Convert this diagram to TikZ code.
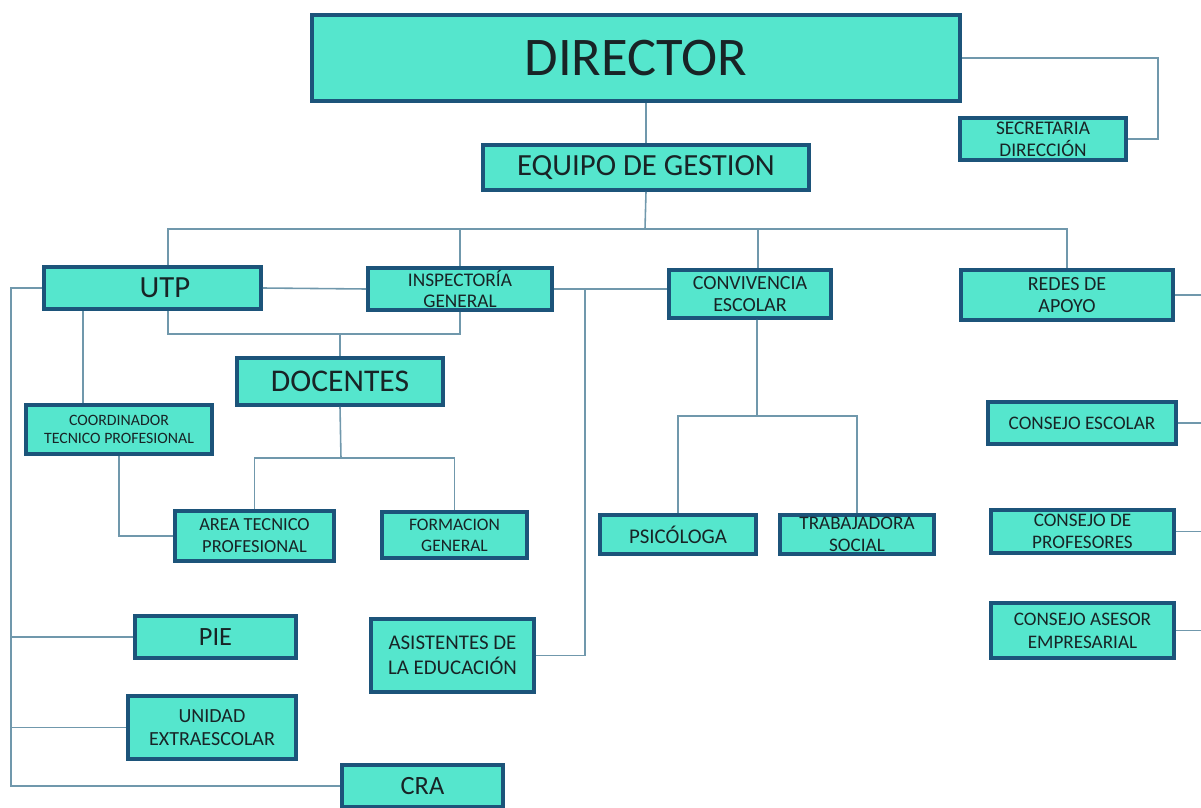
\documentclass[tikz,border=0pt]{standalone}
\usepackage{fontspec}
\setmainfont{Carlito}
\usetikzlibrary{positioning}
\definecolor{boxfill}{RGB}{85,230,205}
\definecolor{boxline}{RGB}{28,84,122}
\definecolor{linkColor}{RGB}{112,152,172}
\definecolor{textColor}{RGB}{24,36,38}
\tikzset{
  box/.style={draw=boxline,fill=boxfill,line width=2.2pt,align=center,inner sep=0pt,text=textColor},
  link/.style={draw=linkColor,line width=0.9pt},
  huge/.style={font=\fontsize{31}{33}\selectfont},
  big/.style={font=\fontsize{17.5}{20}\selectfont},
  mid/.style={font=\fontsize{15}{17}\selectfont},
  small/.style={font=\fontsize{11.4}{13}\selectfont},
  tiny/.style={font=\fontsize{9}{10.5}\selectfont}
}
\begin{document}
\begin{tikzpicture}[x=0.02cm,y=-0.02cm]
  \useasboundingbox (0,0) rectangle (1201,808);
  % top level
  \node [box,huge,minimum width=12.96cm,minimum height=1.72cm] (director) at (636,58) {DIRECTOR};
  \node [box,small,font=\fontsize{11}{12.4}\selectfont,minimum width=3.32cm,minimum height=0.84cm] (secretaria) at (1043,139) {SECRETARIA\\DIRECCIÓN};
  \node [box,big,minimum width=6.52cm,minimum height=0.9cm] (equipo) at (646,167.5) {EQUIPO DE GESTION};
  % second level
  \node [box,big,minimum width=4.34cm,minimum height=0.84cm] (utp) at (152.5,288) {\hspace*{0.5cm}UTP};
  \node [box,small,font=\fontsize{11}{12.4}\selectfont,minimum width=3.68cm,minimum height=0.84cm] (inspectoria) at (460,289) {INSPECTORÍA\\GENERAL};
  \node [box,small,minimum width=3.24cm,minimum height=0.96cm] (convivencia) at (750,294) {CONVIVENCIA\\ESCOLAR};
  \node [box,small,minimum width=4.24cm,minimum height=1cm] (redes) at (1067,295) {REDES DE\\APOYO};
  % under UTP
  \node [box,big,font=\fontsize{18}{20}\selectfont,minimum width=4.12cm,minimum height=0.94cm] (docentes) at (340,381.5) {DOCENTES};
  \node [box,tiny,minimum width=3.72cm,minimum height=0.98cm] (coordinador) at (119,429.5) {COORDINADOR\\TECNICO PROFESIONAL};
  \node [box,small,font=\fontsize{10.5}{12.6}\selectfont,minimum width=3.18cm,minimum height=1cm] (area) at (254.5,536) {AREA TECNICO\\PROFESIONAL};
  \node [box,small,font=\fontsize{10}{12}\selectfont,minimum width=2.9cm,minimum height=0.92cm] (formacion) at (454.5,535) {FORMACION\\GENERAL};
  \node [box,mid,minimum width=3.22cm,minimum height=0.84cm] (pie) at (215.5,637) {PIE};
  \node [box,small,minimum width=3.36cm,minimum height=1.26cm] (unidad) at (212,727.5) {UNIDAD\\EXTRAESCOLAR};
  \node [box,mid,minimum width=3.22cm,minimum height=0.84cm] (cra) at (422.5,786) {CRA};
  \node [box,small,font=\fontsize{11.9}{14}\selectfont,minimum width=3.26cm,minimum height=1.46cm] (asistentes) at (452.5,655.5) {ASISTENTES DE\\LA EDUCACIÓN};
  % under convivencia
  \node [box,small,font=\fontsize{11.9}{14}\selectfont,minimum width=3.12cm,minimum height=0.78cm] (psicologa) at (678,534.5) {PSICÓLOGA};
  \node [box,small,font=\fontsize{10.9}{12.6}\selectfont,minimum width=3.08cm,minimum height=0.78cm] (trabajadora) at (857,534.5) {TRABAJADORA\\SOCIAL};
  % consejos
  \node [box,small,font=\fontsize{10.9}{13}\selectfont,minimum width=3.76cm,minimum height=0.84cm] (cescolar) at (1082,423) {CONSEJO ESCOLAR};
  \node [box,small,font=\fontsize{10.9}{12.6}\selectfont,minimum width=3.66cm,minimum height=0.86cm] (cprofesores) at (1082.5,531.5) {CONSEJO DE\\PROFESORES};
  \node [box,small,font=\fontsize{10.9}{13}\selectfont,minimum width=3.66cm,minimum height=1.1cm] (casesor) at (1082.5,630.5) {CONSEJO ASESOR\\EMPRESARIAL};

  % joints
  \coordinate (bus) at (645,229);
  \coordinate (dj) at (340,334);
  \coordinate (dt) at (341,458);
  \coordinate (ij) at (585,289);
  \coordinate (cj) at (757,416);
  \coordinate (lb) at (11,288);
  \coordinate (rb) at (1201,0);
  \coordinate (sb) at (1158,58);

  % connectors
  \draw [link] (director.east) -- (sb) |- (secretaria.east);
  \draw [link] (equipo.north) -- (equipo.north |- director.south);
  \draw [link] (equipo.south) -- (bus);
  \draw [link] ([xshift=.31cm]utp.north) |- (redes.north |- bus) -- (redes.north);
  \draw [link] (inspectoria.north) -- (inspectoria.north |- bus);
  \draw [link] ([xshift=.16cm]convivencia.north) -- ++(0,-39);
  \draw [link] (utp.east) -- (inspectoria.west);
  \draw [link] ([xshift=.31cm]utp.south) |- (dj) -| (inspectoria.south);
  \draw [link] (dj) -- (docentes.north);
  \draw [link] ([xshift=-.72cm]coordinador.north) -- ++(0,-92);
  \draw [link] (coordinador.south) |- (area.west);
  \draw [link] (docentes.south) -- (dt);
  \draw [link] (area.north) |- (dt) -| (formacion.north);
  \draw [link] (inspectoria.east) -- (inspectoria.east -| convivencia.west);
  \draw [link] (asistentes.east) -| (ij);
  \draw [link] ([xshift=.14cm]convivencia.south) -- (cj);
  \draw [link] (psicologa.north) |- (cj) -| (trabajadora.north);
  \draw [link] (utp.west) -- (lb) |- (cra.west);
  \draw [link] (pie.west) -- (pie.west -| lb);
  \draw [link] (unidad.west) -- (unidad.west -| lb);
  \draw [link] (redes.east) -- (redes.east -| rb);
  \draw [link] (cescolar.east) -- (cescolar.east -| rb);
  \draw [link] (cprofesores.east) -- (cprofesores.east -| rb);
  \draw [link] (casesor.east) -- (casesor.east -| rb);
\end{tikzpicture}
\end{document}
